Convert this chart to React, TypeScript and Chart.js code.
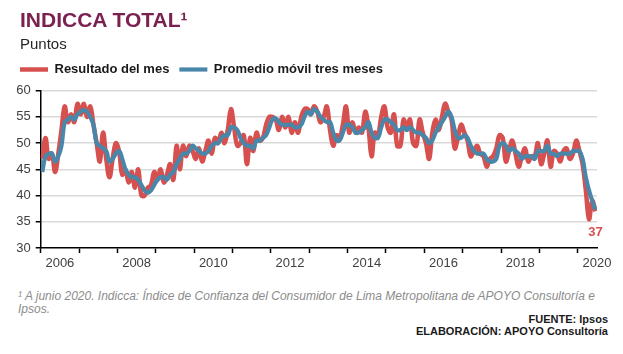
import { useEffect, useRef } from 'react';
import { Chart, registerables } from 'chart.js';

Chart.register(...registerables);

const FONT = "Arial, 'Liberation Sans', sans-serif";
const RED = 'rgb(214, 80, 80)';
const BLUE = 'rgb(72, 135, 170)';

const firstYear = 2006;
const yearLabels = ['2006', '2008', '2010', '2012', '2014', '2016', '2018', '2020'];
const yMin = 30;
const yMax = 60;
const yStep = 5;

// Monthly values, Jan 2006 – Jun 2020
const resultadoDelMes = [
  47, 51, 47, 48, 44.5, 48, 52.5, 57, 54, 55.5, 54, 57.5,
  55.5, 57.5, 55, 57, 53.5, 50, 46.5, 52, 47, 43.5, 47, 50,
  48.5, 44, 45, 42.5, 44.5, 41.5, 45, 40, 40, 41.5, 42, 44.5,
  43, 45, 42.5, 44, 46, 43, 49.5, 45, 49.5, 47.5, 49.5, 48.5,
  47, 49, 46.5, 48.5, 50.5, 48, 51, 50, 52, 50, 52.5, 56.5,
  53, 49.5, 50, 51.5, 46, 51, 48.5, 52, 50.5, 51, 53.5, 55,
  55, 54.5, 52.5, 55, 53, 55, 52, 54, 52, 55, 56.5, 56.5,
  55.5, 57, 56, 54, 55, 57, 52.5, 49.5, 51.5, 51, 53.5, 57,
  52, 54, 52, 53, 52, 56, 53, 47.5, 52, 51.5, 55, 57,
  53, 52, 55.5, 49.5, 49.5, 54.5, 53, 54.5, 50, 49.5, 54.5, 52,
  50, 47, 52, 54.5, 52.5, 55, 57.5, 56, 54.5, 49, 51, 53.5,
  52, 50.5, 47.5, 48.5, 49.5, 48, 47.5, 45.5, 47, 47.5, 49, 51.5,
  51, 46.5, 48.5, 50.5, 48, 45.5, 47.5, 49, 46.5, 47.5, 47.5, 50,
  46, 48, 50.5, 45.5, 48.5, 48, 46.5, 48.5, 49, 47, 48, 50.5,
  48.5, 46, 41, 35.5, 39, 37,
];

const promedioMovil = [
  44.5, 47.5, 48, 48, 46.5, 47.5, 49.5, 54, 54.5, 55, 54.5, 55.5,
  56, 56.3, 56, 55, 53.5, 50, 49.5, 49, 48.5, 46.5, 47, 48,
  48.5, 47, 45, 44, 43.5, 43.5, 43, 42, 41, 40.5, 41, 42,
  43, 43.5, 43.5, 43, 44, 44.5, 46, 47, 48, 48, 48.5, 49.5,
  49, 48.5, 48, 48, 48.5, 49.5, 50, 50, 51, 51.5, 51.5, 53,
  53, 52.5, 51, 50, 49.5, 49.5, 49, 50.5, 50.5, 51, 51.5, 53,
  54.5, 54.7, 54, 53.5, 53.5, 53.5, 53.5, 53, 53, 53.5, 55, 56,
  55.5, 56.5, 56, 55, 54.5, 54, 54, 52, 50.5, 50.5, 52, 53.5,
  53.5, 53, 52, 52, 52.5, 53, 54, 52, 51, 51, 53, 54.5,
  54.5, 54, 53.5, 52.5, 52.5, 53, 52.5, 53, 52.5, 52, 52, 51.5,
  51, 50, 50.5, 52, 53, 54, 55, 56, 55, 52.5, 51, 51,
  51.5, 51, 49.5, 48.5, 48, 48, 48, 47, 46.5, 46.5, 47, 49.5,
  50, 49.5, 48.5, 49, 48.5, 48, 47, 47.5, 47.5, 47.5, 47, 48.5,
  48.5, 48.5, 49.5, 48, 48, 47.5, 48, 48, 48, 48, 48.5, 48.5,
  48.5, 47, 43.5, 41, 39, 37.3,
];

const toPoints = (arr: number[]) => arr.map((v, i) => ({ x: (i + 0.5) / 12, y: v }));

const endLabelPlugin = {
  id: 'endLabel',
  afterDatasetsDraw(chart: any) {
    const meta = chart.getDatasetMeta(0);
    const pts = meta.data;
    const pt = pts[pts.length - 1];
    const val = resultadoDelMes[resultadoDelMes.length - 1];
    const ctx = chart.ctx;
    ctx.save();
    ctx.font = `bold 13px ${FONT}`;
    ctx.fillStyle = RED;
    ctx.textAlign = 'center';
    ctx.textBaseline = 'middle';
    ctx.fillText(String(Math.round(val)), pt.x, pt.y + 21);
    ctx.restore();
  },
};

export default function App() {
  const ref = useRef<HTMLCanvasElement | null>(null);

  useEffect(() => {
    document.body.style.margin = '0';
    const canvas = ref.current;
    if (!canvas) return;
    const nYears = Math.ceil(resultadoDelMes.length / 12);
    const xMax = resultadoDelMes.length / 12;
    const tickValues: number[] = [];
    for (let k = 0; k < nYears; k++) {
      tickValues.push(k);
      tickValues.push(k + 0.5);
    }
    const chart = new Chart(canvas, {
      type: 'line',
      data: {
        datasets: [
          {
            label: 'Resultado del mes',
            data: toPoints(resultadoDelMes),
            borderColor: RED,
            backgroundColor: RED,
            borderWidth: 4.5,
            pointRadius: 0,
            tension: 0.4,
            order: 1,
          },
          {
            label: 'Promedio móvil tres meses',
            data: toPoints(promedioMovil),
            borderColor: BLUE,
            backgroundColor: BLUE,
            borderWidth: 4.2,
            pointRadius: 0,
            tension: 0.4,
            order: 0,
          },
        ],
      },
      options: {
        responsive: false,
        animation: false,
        devicePixelRatio: 1,
        layout: { padding: { left: 10, right: 26, top: 53, bottom: 8 } },
        plugins: {
          title: { display: false },
          legend: {
            display: true,
            position: 'top',
            align: 'start',
            labels: {
              usePointStyle: true,
              pointStyle: 'line',
              pointStyleWidth: 28,
              padding: 10,
              color: '#1a1a1a',
              font: { family: FONT, size: 13, weight: 'bold' },
              sort: (a: any, b: any) => a.datasetIndex - b.datasetIndex,
            },
          },
          tooltip: { enabled: false },
        },
        scales: {
          x: {
            type: 'linear',
            min: 0,
            max: xMax,
            afterBuildTicks: (s: any) => {
              s.ticks = tickValues.map((v) => ({ value: v }));
            },
            afterFit: (s: any) => {
              s.height = 24;
            },
            ticks: {
              autoSkip: false,
              maxRotation: 0,
              padding: 3,
              color: '#404040',
              font: { family: FONT, size: 13 },
              callback: (v: any) => {
                const k = Number(v) - 0.5;
                if (Number.isInteger(k) && k % 2 === 0) {
                  const lbl = String(firstYear + k);
                  return yearLabels.includes(lbl) ? lbl : '';
                }
                return '';
              },
            },
            grid: {
              drawOnChartArea: false,
              drawTicks: true,
              tickLength: 5,
              tickWidth: 1.5,
              tickColor: (c: any) =>
                c.tick && Number.isInteger(c.tick.value) ? '#000' : 'rgba(0,0,0,0)',
            },
            border: { display: true, color: '#000', width: 1.5 },
          },
          gap: {
            type: 'linear',
            axis: 'x',
            position: 'top',
            display: true,
            ticks: { display: false },
            grid: { display: false },
            border: { display: false },
            afterFit: (s: any) => {
              s.height = 4.7;
            },
          },
          y: {
            min: yMin,
            max: yMax,
            afterFit: (s: any) => {
              s.width = 30.7;
            },
            ticks: {
              stepSize: yStep,
              padding: 5,
              color: '#404040',
              font: { family: FONT, size: 13 },
            },
            grid: {
              color: (c: any) => (c.tick && c.tick.value === yMin ? 'rgba(0,0,0,0)' : '#d9d9d9'),
              lineWidth: 1.5,
              tickLength: 5,
              tickColor: '#000',
              tickWidth: 1.5,
            },
            border: { display: true, color: '#000', width: 1.5 },
          },
        },
      } as any,
      plugins: [endLabelPlugin],
    });
    return () => chart.destroy();
  }, []);

  return (
    <div style={{ position: 'absolute', left: 0, top: 0, width: 623, height: 354, background: '#fff', fontFamily: FONT }}>
      <canvas ref={ref} width={623} height={280} style={{ display: 'block', width: 623, height: 280 }} />
      <div
        style={{
          position: 'absolute',
          left: 20,
          top: 7.7,
          fontSize: 21,
          lineHeight: '24px',
          fontWeight: 'bold',
          color: '#7B2150',
          whiteSpace: 'nowrap',
        }}
      >
        INDICCA TOTAL¹
      </div>
      <div
        style={{
          position: 'absolute',
          left: 20,
          top: 34.6,
          fontSize: 15,
          lineHeight: '17px',
          color: '#262626',
          whiteSpace: 'nowrap',
        }}
      >
        Puntos
      </div>
      <div
        style={{
          position: 'absolute',
          left: 18,
          top: 290,
          fontSize: 12,
          lineHeight: '13px',
          fontStyle: 'italic',
          color: '#8c8c8c',
          whiteSpace: 'nowrap',
        }}
      >
        ¹ A junio 2020. Indicca: Índice de Confianza del Consumidor de Lima Metropolitana de APOYO Consultoría e
        <br />
        Ipsos.
      </div>
      <div
        style={{
          position: 'absolute',
          right: 15,
          top: 313,
          fontSize: 11,
          lineHeight: '12px',
          fontWeight: 'bold',
          color: '#1a1a1a',
          textAlign: 'right',
          whiteSpace: 'nowrap',
        }}
      >
        FUENTE: Ipsos
        <br />
        ELABORACIÓN: APOYO Consultoría
      </div>
    </div>
  );
}
